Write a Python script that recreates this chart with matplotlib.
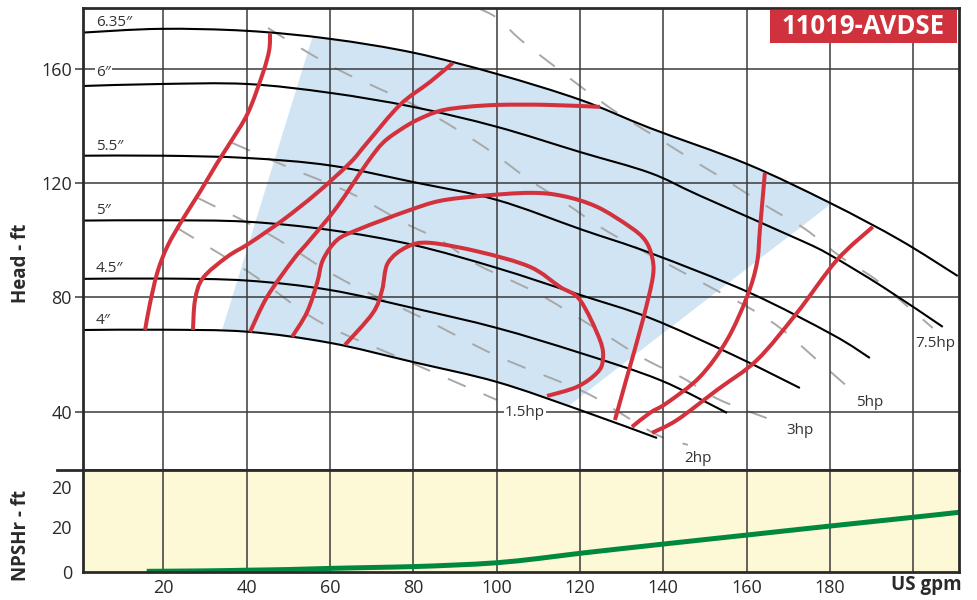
import matplotlib
matplotlib.use('Agg')
import numpy as np
import matplotlib.pyplot as plt
from matplotlib.patches import Rectangle, Polygon, PathPatch
from matplotlib.path import Path
from matplotlib.lines import Line2D

plt.rcParams['font.family'] = ['Open Sans', 'DejaVu Sans']
plt.rcParams['lines.scale_dashes'] = False

# ---------------- data (flow US gpm, head ft) ----------------
title = "11019-AVDSE"

imp_labels = ["6.35\u2033", "6\u2033", "5.5\u2033", "5\u2033", "4.5\u2033", "4\u2033"]
imp_label_h = [176.4, 158.6, 133.0, 110.3, 90.0, 72.1]

q_635 = [0.7, 19.2, 40.1, 60.0, 80.2, 100.1, 120.2, 136.8, 160.1, 180.0, 196.8, 210.7]
h_635 = [172.7, 174.0, 173.3, 170.5, 165.6, 158.2, 149.1, 139.3, 126.7, 113.1, 100.1, 87.5]
q_600 = [0.7, 19.2, 40.1, 60.0, 79.9, 100.1, 120.0, 136.8, 148.8, 172.8, 180.0, 192.7, 207.1]
h_600 = [154.0, 154.7, 154.7, 151.6, 146.7, 139.7, 130.9, 123.6, 115.6, 100.1, 94.9, 83.7, 69.7]
q_550 = [0.7, 20.0, 40.1, 60.0, 79.9, 100.1, 120.7, 136.8, 160.8, 180.7, 189.6]
h_550 = [129.6, 129.6, 128.8, 126.2, 120.4, 114.1, 103.6, 95.6, 81.6, 66.9, 58.8]
q_500 = [0.7, 20.0, 40.1, 60.0, 79.9, 100.1, 120.0, 136.8, 156.7, 172.8]
h_500 = [106.9, 107.0, 106.5, 103.6, 98.4, 90.3, 80.9, 72.8, 59.9, 48.3]
q_450 = [0.7, 20.0, 40.1, 60.0, 79.9, 100.1, 120.0, 139.2, 155.3]
h_450 = [86.5, 86.6, 85.9, 82.6, 76.3, 69.3, 60.6, 51.1, 39.6]
q_400 = [0.7, 20.0, 40.1, 60.0, 79.9, 100.1, 120.0, 138.5]
h_400 = [68.6, 68.7, 68.0, 64.1, 57.4, 50.4, 40.6, 30.8]

# power lines (hp)
q_15hp = [23.3, 40.8, 57.6, 78.0, 100.1]
h_15hp = [104.3, 88.6, 71.4, 58.1, 44.1]
q_2hp = [28.3, 45.6, 63.1, 81.6, 100.1, 120.0, 127.7, 138.5, 145.9]
h_2hp = [114.8, 101.9, 86.1, 73.2, 59.5, 47.6, 41.3, 31.9, 28.4]
q_3hp = [36.5, 50.4, 64.8, 78.0, 86.4, 95.5, 109.2, 122.4, 135.1, 144.7, 153.6, 168.0]
h_3hp = [134.1, 125.3, 116.6, 106.0, 100.1, 91.4, 81.9, 70.4, 58.8, 51.8, 44.1, 36.1]
q_5hp = [45.1, 54.5, 63.1, 72.5, 81.6, 90.7, 99.1, 107.5, 116.4, 124.8, 133.7, 142.3,
         151.2, 161.5, 168.7, 176.4, 184.3, 186.0]
h_5hp = [174.3, 165.9, 158.9, 152.6, 146.3, 138.6, 130.6, 121.5, 113.1, 104.7, 97.3, 90.7,
         83.7, 75.6, 68.6, 58.8, 48.7, 46.9]
q_75hp = [95.5, 100.1, 105.8, 113.8, 121.9, 130.1, 139.0, 147.8, 156.5, 165.1, 174.0,
          182.6, 190.8, 198.2, 204.7]
h_75hp = [181.3, 177.8, 170.1, 161.0, 151.9, 143.5, 135.5, 127.4, 119.7, 111.7, 104.0,
          94.2, 86.5, 77.4, 69.3]
hp_labels = ["1.5hp", "2hp", "3hp", "5hp", "7.5hp"]
hp_label_q = [106.8, 148.3, 172.8, 189.6, 205.4]
hp_label_h = [39.9, 23.8, 33.6, 43.4, 64.0]

# efficiency contours (red)
q_e1 = [15.6, 16.8, 18.6, 21.0, 24.7, 28.8, 32.9, 36.0, 40.3, 43.9, 45.4, 45.6]
h_e1 = [68.6, 78.0, 89.0, 98.0, 107.5, 117.0, 127.0, 134.1, 144.6, 158.6, 166.6, 172.6]
q_e2 = [27.1, 27.6, 29.5, 35.3, 40.8, 48.7, 56.9, 64.8, 68.9, 76.8, 84.0, 89.5]
h_e2 = [68.6, 79.1, 86.8, 94.2, 99.1, 107.1, 116.6, 127.1, 134.1, 147.4, 155.4, 162.1]
q_e3 = [40.8, 44.9, 51.1, 55.2, 61.7, 68.9, 72.7, 76.8, 80.9, 86.4, 92.9, 100.8, 112.0, 124.8]
h_e3 = [67.9, 80.2, 93.1, 100.1, 111.7, 127.1, 134.1, 138.6, 142.1, 145.3, 146.7, 147.4, 147.4, 146.7]
q_e4 = [50.9, 54.5, 56.9, 58.3, 61.7, 66.5, 72.7, 79.2, 86.4, 96.0, 108.0, 115.9, 124.1,
        132.0, 135.6, 137.3, 137.5, 135.1, 131.3, 128.4]
h_e4 = [66.2, 74.9, 85.1, 93.1, 100.1, 103.6, 107.1, 110.6, 113.8, 115.5, 116.6, 115.5, 111.7,
        104.7, 100.1, 94.2, 87.2, 72.1, 52.2, 37.1]
q_e5 = [63.6, 70.3, 72.5, 73.9, 78.5, 84.0, 96.0, 108.0, 115.2, 120.0, 124.8, 125.5, 124.1,
        119.3, 112.1]
h_e5 = [63.4, 74.6, 82.6, 92.1, 97.7, 99.1, 95.9, 90.7, 83.7, 79.1, 65.1, 58.1, 53.6, 48.7, 45.5]
q_e6 = [164.4, 163.2, 162.5, 160.1, 155.3, 148.8, 140.9, 136.8, 132.5]
h_e6 = [123.6, 103.6, 92.1, 80.2, 65.1, 52.2, 43.1, 39.6, 34.7]
q_e7 = [190.3, 181.7, 172.1, 162.5, 152.9, 143.3, 137.3]
h_e7 = [104.7, 93.1, 74.6, 58.1, 47.6, 37.1, 32.6]

# recommended operating region (blue)
region_q = [34.1, 55.7, 60.0, 80.2, 100.1, 120.2, 136.8, 160.1, 180.5, 117.6, 100.1, 79.9, 60.0, 40.1]
region_h = [68.6, 170.8, 170.5, 165.6, 158.2, 149.1, 139.3, 126.7, 113.0, 42.4, 50.4, 57.4, 64.1, 68.0]

# NPSHr
q_npsh = [16, 30, 40, 50, 60, 70, 80, 90, 100, 110, 120, 140, 160, 180, 200, 211]
h_npsh = [0.3, 0.5, 0.8, 1.1, 1.6, 2.0, 2.4, 3.1, 4.1, 6.0, 8.3, 12.4, 16.4, 20.4, 24.3, 26.5]

x_ticks = [20, 40, 60, 80, 100, 120, 140, 160, 180, 200]
x_tick_labels = ["20", "40", "60", "80", "100", "120", "140", "160", "180", ""]
head_ticks = [40, 80, 120, 160]
npsh_ticks = [0, 20, 37.8]
npsh_tick_labels = ["0", "20", "20"]

# ---------------- styles ----------------
GRID = '#3a3a3a'
SPINE = '#2a2a2a'
RED = '#d3323d'
BLUE = '#d0e4f3'
DASH = '#a8a8a8'
TXT = '#2a2a2a'


def smooth_path(q, h):
    """Smooth Bezier path passing through the given data points."""
    pts = np.column_stack([q, h]).astype(float)
    n = len(pts)
    verts = [pts[0]]
    codes = [Path.MOVETO]
    for i in range(n - 1):
        p0 = pts[i - 1] if i > 0 else pts[i]
        p1 = pts[i]
        p2 = pts[i + 1]
        p3 = pts[i + 2] if i + 2 < n else pts[i + 1]
        verts += [p1 + (p2 - p0) / 6.0, p2 - (p3 - p1) / 6.0, p2]
        codes += [Path.CURVE4] * 3
    return Path(verts, codes)


def draw_curve(a, q, h, **kw):
    a.add_patch(PathPatch(smooth_path(q, h), facecolor='none', **kw))


fig = plt.figure(figsize=(9.78, 6.0), dpi=100)
W, H = 978.0, 600.0
ax = fig.add_axes([83 / W, 1 - 470 / H, 876 / W, 462 / H])
axn = fig.add_axes([83 / W, 1 - 572 / H, 876 / W, 102 / H])

for a in (ax, axn):
    a.set_xlim(0.7, 211)
    a.set_xticks(x_ticks)
    for s in a.spines.values():
        s.set_color(SPINE)
        s.set_linewidth(2.0)
        s.set_zorder(10)
    a.grid(True, axis='x', color=GRID, linewidth=1.1, zorder=1)
    a.set_axisbelow(False)

ax.set_ylim(19.6, 181.3)
ax.set_yticks(head_ticks)
ax.grid(True, axis='y', color=GRID, linewidth=1.1, zorder=1)
ax.tick_params(axis='x', length=0, labelbottom=False)
ax.tick_params(axis='y', length=6, width=1.1, color=GRID, labelsize=13, pad=2, labelcolor=TXT)

# blue region
ax.add_patch(Polygon(list(zip(region_q, region_h)), closed=True, facecolor=BLUE,
                     edgecolor='none', zorder=0.5))

# power lines
for q, h in [(q_15hp, h_15hp), (q_2hp, h_2hp), (q_3hp, h_3hp), (q_5hp, h_5hp), (q_75hp, h_75hp)]:
    draw_curve(ax, q, h, edgecolor=DASH, linewidth=1.4, linestyle=(0, (14, 14)), zorder=2)
for lab, q, h in zip(hp_labels, hp_label_q, hp_label_h):
    kw = {}
    if lab == "1.5hp":
        kw['bbox'] = dict(facecolor='white', edgecolor='none', pad=1)
    ax.text(q, h, lab, fontsize=11, color='#333333', ha='center', va='center', zorder=6, **kw)

# impeller curves
for q, h in [(q_635, h_635), (q_600, h_600), (q_550, h_550), (q_500, h_500), (q_450, h_450), (q_400, h_400)]:
    draw_curve(ax, q, h, edgecolor='black', linewidth=1.5, zorder=3, capstyle='butt')
for lab, h in zip(imp_labels, imp_label_h):
    kw = {}
    if lab == "6\u2033":
        kw['bbox'] = dict(facecolor='white', edgecolor='none', pad=1)
    ax.text(3.8, h, lab, fontsize=11, color='#333333', ha='left', va='center', zorder=6, **kw)

# efficiency curves
for q, h in [(q_e1, h_e1), (q_e2, h_e2), (q_e3, h_e3), (q_e4, h_e4), (q_e5, h_e5), (q_e6, h_e6), (q_e7, h_e7)]:
    draw_curve(ax, q, h, edgecolor=RED, linewidth=2.9, zorder=4, joinstyle='round', capstyle='butt')

# title box
ax.add_patch(Rectangle((0.784, 0.924), 0.214, 0.072, transform=ax.transAxes,
                       facecolor='#d0323d', edgecolor='none', zorder=8))
ax.text(0.891, 0.959, title, transform=ax.transAxes, color='white', fontsize=18.5,
        fontweight='bold', ha='center', va='center', zorder=9)

# NPSH panel
axn.set_facecolor('#fdf8d5')
axn.set_ylim(0, 45.3)
axn.set_yticks(npsh_ticks)
axn.set_yticklabels(npsh_tick_labels)
axn.set_xticklabels(x_tick_labels)
axn.tick_params(axis='y', length=0, labelsize=13, pad=8, labelcolor=TXT)
axn.tick_params(axis='x', length=0, labelsize=13, pad=5, labelcolor=TXT)
draw_curve(axn, q_npsh, h_npsh, edgecolor='#00893e', linewidth=3.6, zorder=4, capstyle='butt')

# separator extension and labels
fig.add_artist(Line2D([57 / W, 83 / W], [1 - 470 / H, 1 - 470 / H], color=SPINE, linewidth=2.0))
fig.text(21 / W, 1 - 263 / H, "Head - ft", rotation=90, fontsize=13.5, fontweight='bold',
         ha='center', va='center', color=TXT)
fig.text(21 / W, 1 - 535 / H, "NPSHr - ft", rotation=90, fontsize=13.5, fontweight='bold',
         ha='center', va='center', color=TXT)
fig.text(962 / W, 1 - 585 / H, "US gpm", fontsize=13.5, fontweight='bold',
         ha='right', va='center', color=TXT)

fig.savefig('out.png', dpi=100)
